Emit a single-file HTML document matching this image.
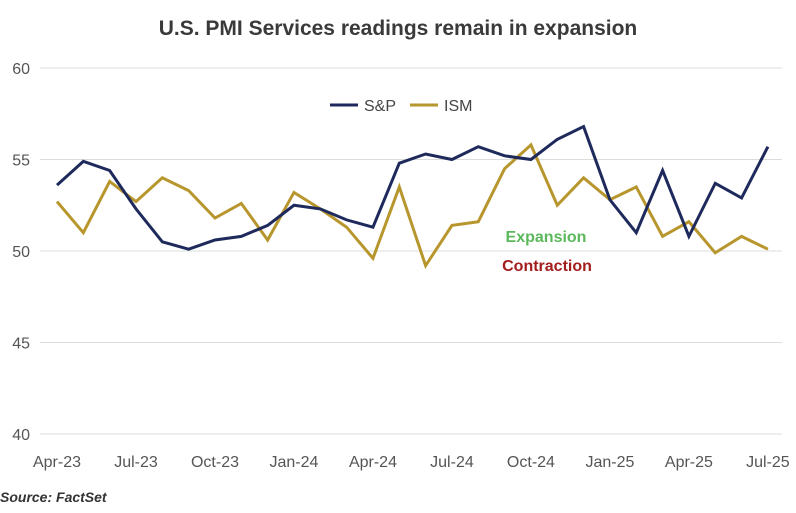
<!DOCTYPE html>
<html><head><meta charset="utf-8"><style>
body{margin:0;background:#fff;font-family:"Liberation Sans",sans-serif}
svg text{font-family:"Liberation Sans",sans-serif}
</style></head><body>
<svg width="796" height="508">
<g id="grid"></g>
<g id="ylab"></g>
<g id="xlab"></g>
<g id="lines"></g>
<text x="398" y="35" text-anchor="middle" font-size="21" font-weight="bold" fill="#3a3a3a">U.S. PMI Services readings remain in expansion</text>
<g>
<line x1="330" y1="105" x2="358" y2="105" stroke="#1f2a5c" stroke-width="3"/>
<text x="364" y="111" font-size="16" fill="#444">S&amp;P</text>
<line x1="410" y1="105" x2="438" y2="105" stroke="#b8962e" stroke-width="3"/>
<text x="444" y="111" font-size="16" fill="#444">ISM</text>
</g>
<text x="546" y="242" text-anchor="middle" font-size="16" font-weight="bold" fill="#5cb85c">Expansion</text>
<text x="547" y="271" text-anchor="middle" font-size="16" font-weight="bold" fill="#a31d1d">Contraction</text>
<text x="0" y="502" font-size="14" font-weight="bold" font-style="italic" fill="#333">Source: FactSet</text>
</svg>
<script>
const yTicks=[40,45,50,55,60];
const xLabels=["Apr-23","Jul-23","Oct-23","Jan-24","Apr-24","Jul-24","Oct-24","Jan-25","Apr-25","Jul-25"];
const sp=[53.6,54.9,54.4,52.3,50.5,50.1,50.6,50.8,51.4,52.5,52.3,51.7,51.3,54.8,55.3,55.0,55.7,55.2,55.0,56.1,56.8,52.8,51.0,54.4,50.8,53.7,52.9,55.7];
const ism=[52.7,51.0,53.8,52.7,54.0,53.3,51.8,52.6,50.6,53.2,52.3,51.3,49.6,53.5,49.2,51.4,51.6,54.5,55.8,52.5,54.0,52.8,53.5,50.8,51.6,49.9,50.8,50.1];
const NS="http://www.w3.org/2000/svg";
const y=v=>251-(v-50)*18.3;
const x=i=>57+i*26.33;
const grid=document.getElementById('grid'),yl=document.getElementById('ylab'),xl=document.getElementById('xlab'),ln=document.getElementById('lines');
yTicks.forEach(t=>{
 const l=document.createElementNS(NS,'line');
 l.setAttribute('x1',40);l.setAttribute('x2',782);l.setAttribute('y1',y(t));l.setAttribute('y2',y(t));
 l.setAttribute('stroke','#dcdcdc');l.setAttribute('stroke-width','1');
 
 
 grid.appendChild(l);
 const tx=document.createElementNS(NS,'text');
 tx.setAttribute('x',30);tx.setAttribute('y',y(t)+6);tx.setAttribute('text-anchor','end');
 tx.setAttribute('font-size','16');tx.setAttribute('fill','#555');tx.textContent=t;
 
 
 yl.appendChild(tx);
});
xLabels.forEach((s,k)=>{
 const tx=document.createElementNS(NS,'text');
 tx.setAttribute('x',x(k*3));tx.setAttribute('y',467);tx.setAttribute('text-anchor','middle');
 tx.setAttribute('font-size','16');tx.setAttribute('fill','#555');tx.textContent=s;
 
 
 xl.appendChild(tx);
});
function drawLine(data,color,name){
 const p=document.createElementNS(NS,'polyline');
 p.setAttribute('points',data.map((v,i)=>x(i)+','+y(v)).join(' '));
 p.setAttribute('fill','none');p.setAttribute('stroke',color);p.setAttribute('stroke-width','3');
 p.setAttribute('stroke-linejoin','miter');
 
 
 ln.appendChild(p);
}
drawLine(ism,'#b8962e','ism-line');
drawLine(sp,'#1f2a5c','sp-line');
</script>
</body></html>
